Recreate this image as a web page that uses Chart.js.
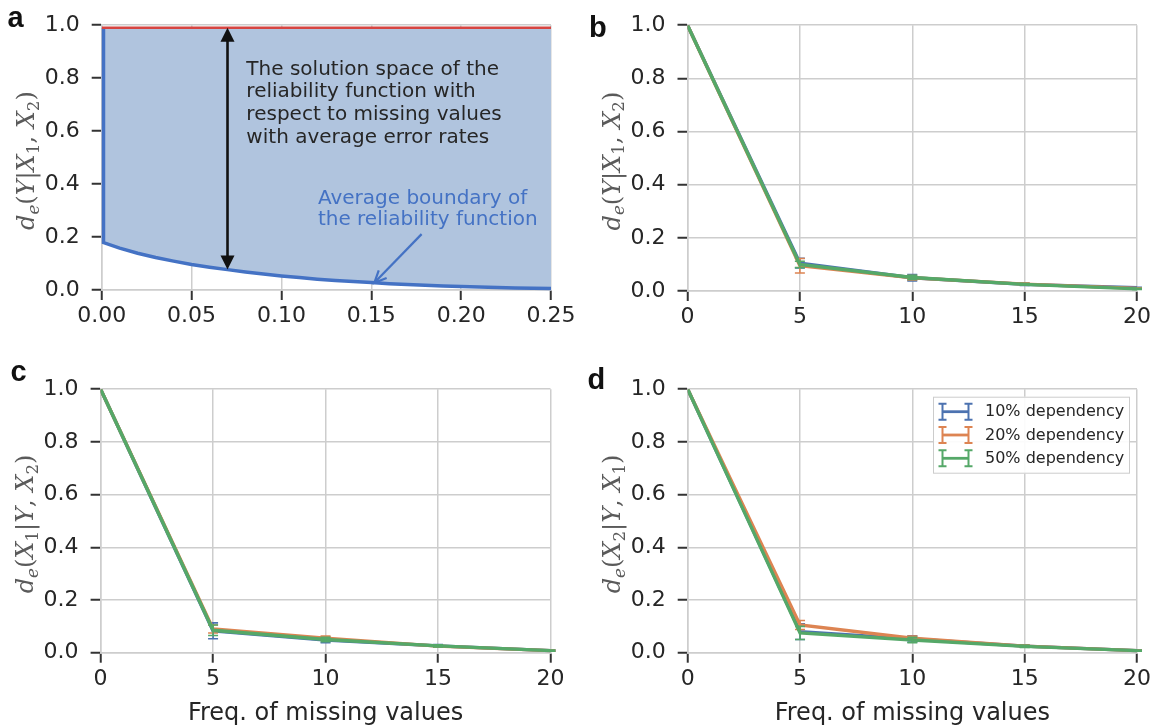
<!DOCTYPE html>
<html><head><meta charset="utf-8">
<script src="https://cdn.jsdelivr.net/npm/chart.js@4.4.1/dist/chart.umd.min.js"></script>
<style>
html,body{margin:0;padding:0;background:#fff;}
#wrap{position:relative;width:1163px;height:728px;overflow:hidden;background:#fff;}
canvas{position:absolute;}
</style></head><body><div id="wrap">
<canvas id="ca" width="582" height="364" style="left:0;top:0"></canvas>
<canvas id="cb" width="582" height="364" style="left:581px;top:0"></canvas>
<canvas id="cc" width="582" height="364" style="left:0;top:364px"></canvas>
<canvas id="cd" width="582" height="364" style="left:581px;top:364px"></canvas>
</div>
<script>
// ---------------- DATA ----------------
// Panel a: average boundary of the reliability function
const aX = [0.001, 0.001, 0.01, 0.02, 0.03, 0.04, 0.05, 0.06, 0.07, 0.08, 0.09, 0.10, 0.11, 0.12, 0.13,
            0.14, 0.15, 0.16, 0.17, 0.18, 0.19, 0.20, 0.21, 0.22, 0.23, 0.24, 0.25];
const aY = [0.99, 0.179, 0.158, 0.139, 0.123, 0.109, 0.096, 0.086, 0.077, 0.068, 0.060, 0.053, 0.047, 0.041, 0.036,
            0.032, 0.028, 0.024, 0.021, 0.018, 0.015, 0.013, 0.011, 0.009, 0.008, 0.007, 0.006];
const aUpperX = [0, 0.25];
const aUpperY = [0.99, 0.99];
const aSpanArrowX = [0.07, 0.07];
const aSpanArrowY = [0.99, 0.077];
const aPointerX = [0.178, 0.1517];
const aPointerY = [0.211, 0.027];
const aNoteLines = ['The solution space of the', 'reliability function with', 'respect to missing values', 'with average error rates'];
const aBoundaryLines = ['Average boundary of', 'the reliability function'];

// Panels b-d
const freqs = [0, 5, 10, 15, 20];
const seriesNames = ['10% dependency', '20% dependency', '50% dependency'];

const b10 = [1.0, 0.105, 0.050, 0.025, 0.012];  const b10Err = [0, 0.018, 0.012, 0.004, 0.002];
const b20 = [1.0, 0.095, 0.050, 0.026, 0.010];  const b20Err = [0, 0.027, 0.008, 0.004, 0.002];
const b50 = [1.0, 0.100, 0.051, 0.025, 0.008];  const b50Err = [0, 0.012, 0.008, 0.003, 0.002];

const c10 = [1.0, 0.083, 0.048, 0.026, 0.008];  const c10Err = [0, 0.030, 0.010, 0.005, 0.002];
const c20 = [1.0, 0.090, 0.055, 0.025, 0.008];  const c20Err = [0, 0.015, 0.008, 0.004, 0.002];
const c50 = [1.0, 0.085, 0.050, 0.026, 0.008];  const c50Err = [0, 0.020, 0.008, 0.004, 0.002];

const d10 = [1.0, 0.080, 0.052, 0.025, 0.008];  const d10Err = [0, 0.030, 0.012, 0.004, 0.002];
const d20 = [1.0, 0.105, 0.055, 0.025, 0.008];  const d20Err = [0, 0.017, 0.008, 0.004, 0.002];
const d50 = [1.0, 0.075, 0.048, 0.024, 0.008];  const d50Err = [0, 0.025, 0.010, 0.004, 0.002];

// Tick values
const yTickVals = [0, 0.2, 0.4, 0.6, 0.8, 1.0];
const aXTickVals = [0, 0.05, 0.10, 0.15, 0.20, 0.25];
const freqTickVals = [0, 5, 10, 15, 20];
const xTitle = 'Freq. of missing values';

// ---------------- STYLE ----------------
const GRID = '#cdcdcd', TICK = '#333333', TXT = '#262626';
const COLORS = ['#4c72b0', '#dd8452', '#55a868'];
const FONT = 'DejaVu Sans';

// y-axis titles (math text segments)
const T_YX1X2 = [{t:'d',i:1},{t:'e',i:1,s:1},{t:'('},{t:'Y',i:1},{t:'|'},{t:'X',i:1},{t:'1',s:1},{t:', '},{t:'X',i:1},{t:'2',s:1},{t:')'}];
const T_X1YX2 = [{t:'d',i:1},{t:'e',i:1,s:1},{t:'('},{t:'X',i:1},{t:'1',s:1},{t:'|'},{t:'Y',i:1},{t:', '},{t:'X',i:1},{t:'2',s:1},{t:')'}];
const T_X2YX1 = [{t:'d',i:1},{t:'e',i:1,s:1},{t:'('},{t:'X',i:1},{t:'2',s:1},{t:'|'},{t:'Y',i:1},{t:', '},{t:'X',i:1},{t:'1',s:1},{t:')'}];

function drawRich(ctx, segs, cx, cy, size, color) {
  ctx.save();
  ctx.translate(cx, cy);
  ctx.rotate(-Math.PI / 2);
  let total = 0;
  const parts = segs.map(s => {
    const fs = s.s ? size * 0.7 : size;
    const font = (s.i ? 'italic ' : '') + fs + 'px "DejaVu Serif"';
    ctx.font = font;
    const w = ctx.measureText(s.t).width;
    total += w;
    return {s, font, w};
  });
  let x = -total / 2;
  ctx.fillStyle = color;
  ctx.textBaseline = 'alphabetic';
  ctx.textAlign = 'left';
  parts.forEach(p => {
    ctx.font = p.font;
    ctx.fillText(p.s.t, x, size * 0.36 + (p.s.s ? size * 0.2 : 0));
    x += p.w;
  });
  ctx.restore();
}

const panelDecor = {
  id: 'panelDecor',
  afterDraw(chart, args, o) {
    const ctx = chart.ctx, ca = chart.chartArea;
    ctx.save();
    ctx.font = 'bold 29px "Liberation Sans"';
    ctx.fillStyle = '#111';
    ctx.textBaseline = 'alphabetic';
    ctx.textAlign = 'left';
    ctx.fillText(o.letter, o.lx, o.ly);
    drawRich(ctx, o.ytitle, ca.left - 76.5, (ca.top + ca.bottom) / 2 + 3, 24, '#5a5a5a');
    ctx.restore();
  }
};

const errorBars = {
  id: 'errorBars',
  afterDatasetDraw(chart, args) {
    const ds = chart.data.datasets[args.index];
    if (!ds.errors) return;
    const ctx = chart.ctx, xs = chart.scales.x, ys = chart.scales.y;
    ctx.save();
    ctx.strokeStyle = ds.borderColor;
    ctx.lineWidth = 1.6;
    ds.data.forEach((p, i) => {
      const e = ds.errors[i];
      if (!e) return;
      const x = xs.getPixelForValue(p.x);
      const y1 = ys.getPixelForValue(p.y - e), y2 = ys.getPixelForValue(p.y + e);
      ctx.beginPath();
      ctx.moveTo(x, y1); ctx.lineTo(x, y2);
      ctx.moveTo(x - 5, y1); ctx.lineTo(x + 5, y1);
      ctx.moveTo(x - 5, y2); ctx.lineTo(x + 5, y2);
      ctx.stroke();
    });
    ctx.restore();
  }
};

function arrowHead(ctx, x, y, ang, len, half, filled) {
  const bx = x - len * Math.cos(ang), by = y - len * Math.sin(ang);
  const px = -Math.sin(ang) * half, py = Math.cos(ang) * half;
  ctx.beginPath();
  if (filled) {
    ctx.moveTo(x, y); ctx.lineTo(bx + px, by + py); ctx.lineTo(bx - px, by - py); ctx.closePath(); ctx.fill();
  } else {
    ctx.moveTo(bx + px, by + py); ctx.lineTo(x, y); ctx.lineTo(bx - px, by - py); ctx.stroke();
  }
}

const notesA = {
  id: 'notesA',
  afterDatasetsDraw(chart) {
    const ctx = chart.ctx, xs = chart.scales.x, ys = chart.scales.y;
    ctx.save();
    // double-headed span arrow
    const sx = xs.getPixelForValue(aSpanArrowX[0]);
    const sy1 = ys.getPixelForValue(aSpanArrowY[0]), sy2 = ys.getPixelForValue(aSpanArrowY[1]);
    ctx.strokeStyle = '#111'; ctx.fillStyle = '#111'; ctx.lineWidth = 2.6;
    ctx.beginPath(); ctx.moveTo(sx, sy1 + 10); ctx.lineTo(sx, sy2 - 10); ctx.stroke();
    arrowHead(ctx, sx, sy1, -Math.PI / 2, 14, 7, true);
    arrowHead(ctx, sx, sy2, Math.PI / 2, 14, 7, true);
    // pointer arrow
    const px1 = xs.getPixelForValue(aPointerX[0]), py1 = ys.getPixelForValue(aPointerY[0]);
    const px2 = xs.getPixelForValue(aPointerX[1]), py2 = ys.getPixelForValue(aPointerY[1]);
    ctx.strokeStyle = '#4472c4'; ctx.lineWidth = 2.2;
    ctx.beginPath(); ctx.moveTo(px1, py1); ctx.lineTo(px2, py2); ctx.stroke();
    arrowHead(ctx, px2, py2, Math.atan2(py2 - py1, px2 - px1), 12, 5.5, false);
    // texts
    ctx.font = '20px "' + FONT + '"';
    ctx.textBaseline = 'middle'; ctx.textAlign = 'left';
    ctx.fillStyle = TXT;
    const nx = xs.getPixelForValue(0.0805), ny = ys.getPixelForValue(0.833);
    aNoteLines.forEach((t, i) => ctx.fillText(t, nx, ny + i * 22.8));
    ctx.fillStyle = '#4472c4';
    const bx = xs.getPixelForValue(0.1203), by = ys.getPixelForValue(0.3456);
    aBoundaryLines.forEach((t, i) => ctx.fillText(t, bx, by + i * 21.6));
    ctx.restore();
  }
};

const legendD = {
  id: 'legendD',
  afterDatasetsDraw(chart) {
    const ctx = chart.ctx, ca = chart.chartArea;
    const w = 197, h = 77;
    const L = ca.right - 7 - w, T = ca.top + 7.5;
    ctx.save();
    ctx.fillStyle = 'rgba(255,255,255,0.92)';
    ctx.fillRect(L, T, w, h);
    ctx.strokeStyle = '#cccccc'; ctx.lineWidth = 1;
    ctx.strokeRect(L + 0.5, T + 0.5, w - 1, h - 1);
    ctx.font = '16px "' + FONT + '"';
    ctx.textBaseline = 'middle'; ctx.textAlign = 'left';
    seriesNames.forEach((name, i) => {
      const cy = T + 15 + i * 23.3;
      const x0 = L + 9.5, x1 = L + 35.5;
      ctx.strokeStyle = COLORS[i];
      ctx.lineWidth = 2.8;
      ctx.beginPath(); ctx.moveTo(x0, cy); ctx.lineTo(x1, cy); ctx.stroke();
      ctx.lineWidth = 2;
      ctx.beginPath();
      [x0, x1].forEach(x => {
        ctx.moveTo(x, cy - 8); ctx.lineTo(x, cy + 8);
        ctx.moveTo(x - 4, cy - 8); ctx.lineTo(x + 4, cy - 8);
        ctx.moveTo(x - 4, cy + 8); ctx.lineTo(x + 4, cy + 8);
      });
      ctx.stroke();
      ctx.fillStyle = TXT;
      ctx.fillText(name, L + 52, cy + 0.5);
    });
    ctx.restore();
  }
};

function xScale(min, max, vals, dec, height, title) {
  return {
    type: 'linear', min, max,
    afterBuildTicks: s => { s.ticks = vals.map(v => ({value: v})); },
    afterFit: s => { s.height = height; },
    grid: {color: GRID, lineWidth: 1.5, tickColor: TICK, tickLength: 10, tickWidth: 2},
    border: {color: GRID, width: 1.5},
    ticks: {font: {family: FONT, size: 22}, color: TXT, padding: 3, maxRotation: 0, autoSkip: false,
            callback: v => Number(v).toFixed(dec)},
    title: title ? {display: true, text: title, font: {family: FONT, size: 24}, color: TXT, padding: {top: 0, bottom: 0}}
                 : {display: false}
  };
}
function yScale(width) {
  return {
    type: 'linear', min: 0, max: 1,
    afterBuildTicks: s => { s.ticks = yTickVals.map(v => ({value: v})); },
    afterFit: s => { s.width = width; },
    grid: {color: GRID, lineWidth: 1.5, tickColor: TICK, tickLength: 10, tickWidth: 2},
    border: {color: GRID, width: 1.5},
    ticks: {font: {family: FONT, size: 22}, color: TXT, padding: 12, callback: v => Number(v).toFixed(1)}
  };
}

function pts(xs, ys) { return xs.map((x, i) => ({x, y: ys[i]})); }

const baseOpts = {
  responsive: false, animation: false, devicePixelRatio: 1,
  plugins: {legend: {display: false}, tooltip: {enabled: false}}
};

// ---------- Panel a ----------
new Chart(document.getElementById('ca'), {
  type: 'scatter',
  data: {datasets: [
    {data: pts(aUpperX, aUpperY), showLine: true, borderColor: '#d64541', borderWidth: 2.5, pointRadius: 0, order: 1},
    {data: pts(aX, aY), showLine: true, borderColor: '#4472c4', borderWidth: 3.5, pointRadius: 0,
     fill: {value: 0.99}, backgroundColor: '#b0c4de', order: 2, clip: 4}
  ]},
  options: Object.assign({}, baseOpts, {
    layout: {padding: {left: 0, right: 31, top: 20, bottom: 0}},
    scales: {x: xScale(0, 0.25, aXTickVals, 2, 74, null), y: yScale(101.7)},
    plugins: Object.assign({}, baseOpts.plugins, {panelDecor: {letter: 'a', lx: 7.5, ly: 27, ytitle: T_YX1X2}})
  }),
  plugins: [panelDecor, notesA]
});

function lineDatasets(vals, errs) {
  return vals.map((v, i) => ({
    label: seriesNames[i], data: pts(freqs, v), errors: errs[i], showLine: true,
    borderColor: COLORS[i], backgroundColor: COLORS[i], borderWidth: 3.4, pointRadius: 0, order: 3 - i
  }));
}

function freqChart(id, vals, errs, left, right, top, xh, letter, lx, ly, ytitle, title, extra) {
  return new Chart(document.getElementById(id), {
    type: 'scatter',
    data: {datasets: lineDatasets(vals, errs)},
    options: Object.assign({}, baseOpts, {
      layout: {padding: {left: 0, right: right, top: top, bottom: 0}},
      scales: {x: xScale(0, 20, freqTickVals, 0, xh, title), y: yScale(left)},
      plugins: Object.assign({}, baseOpts.plugins, {panelDecor: {letter, lx, ly, ytitle}})
    }),
    plugins: [panelDecor, errorBars].concat(extra || [])
  });
}

freqChart('cb', [b10, b20, b50], [b10Err, b20Err, b50Err], 106.5, 26, 19.5, 73, 'b', 8, 37, T_YX1X2, null);
freqChart('cc', [c10, c20, c50], [c10Err, c20Err, c50Err], 100.6, 31.5, 17, 75.3, 'c', 10.5, 16.5, T_X1YX2, xTitle);
freqChart('cd', [d10, d20, d50], [d10Err, d20Err, d50Err], 106.7, 26, 17, 75.3, 'd', 6.5, 24.5, T_X2YX1, xTitle, [legendD]);
</script>
</body></html>
